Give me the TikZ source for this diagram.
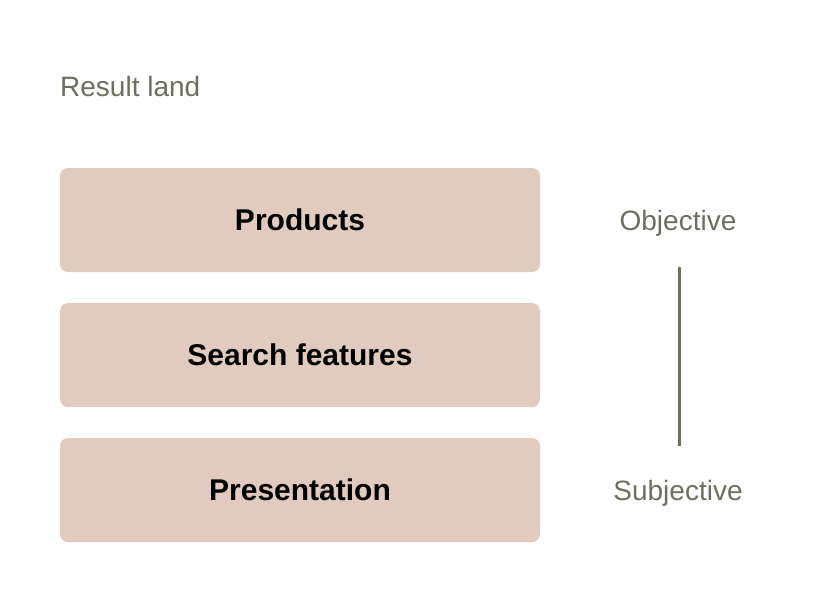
\documentclass[tikz,border=0pt]{standalone}
\usepackage{fontspec}
\setmainfont{Liberation Sans}
\definecolor{boxc}{HTML}{E0CBBE}
\definecolor{txtc}{HTML}{6E6E5E}
\begin{document}
\begin{tikzpicture}[x=1pt,y=-1pt,
  box/.style={fill=boxc,rounded corners=8pt,minimum width=480pt,minimum height=104pt,inner sep=0pt,font=\fontsize{30}{36}\selectfont\bfseries},
  lab/.style={text=txtc,font=\fontsize{28}{34}\selectfont,inner sep=0pt}]
\useasboundingbox (0,0) rectangle (828,603);
\node[lab,anchor=base west] (title) at (60,96) {Result land};
\node[box] (p) at (300,220) {Products};
\node[box] (s) at (300,355) {Search features};
\node[box] (r) at (300,490) {Presentation};
\node[lab] (o) at (678,223) {Objective};
\node[lab] (sub) at (678,493) {Subjective};
\coordinate (a) at (679,267);
\coordinate (b) at (679,446);
\draw[txtc,line width=3pt] (a) -- (b);
\end{tikzpicture}
\end{document}
